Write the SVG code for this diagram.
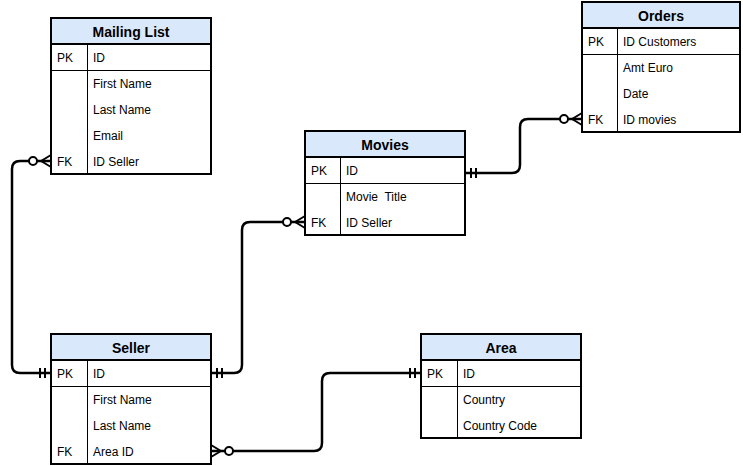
<svg xmlns="http://www.w3.org/2000/svg" width="743" height="466" viewBox="0 0 743 466">
<defs>
<style>
.box{fill:#ffffff;stroke:#000;stroke-width:2}
.hdr{fill:#dae8fc;stroke:#000;stroke-width:2}
.sep{stroke:#000;stroke-width:1;fill:none}
.ht{font-family:"Liberation Sans",Arial,sans-serif;font-size:14px;font-weight:bold;text-anchor:middle;fill:#000}
.t{font-family:"Liberation Sans",Arial,sans-serif;font-size:12px;fill:#000;white-space:pre}
.conn{fill:none;stroke:#000;stroke-width:2.5}
</style>
<marker id="zeroMany" markerUnits="userSpaceOnUse" orient="auto-start-reverse" refX="0" refY="0" viewBox="-30 -10 32 20" markerWidth="32" markerHeight="20" overflow="visible">
<path d="M-10,0 L0,-6 M-10,0 L0,0 M-10,0 L0,6" fill="none" stroke="#000" stroke-width="2"/>
<circle cx="-18" cy="0" r="4" fill="#fff" stroke="#000" stroke-width="2"/>
</marker>
<marker id="mandOne" markerUnits="userSpaceOnUse" orient="auto-start-reverse" refX="0" refY="0" viewBox="-30 -10 32 20" markerWidth="32" markerHeight="20" overflow="visible">
<path d="M-6,-5 V5 M-11,-5 V5" fill="none" stroke="#000" stroke-width="2"/>
</marker>
</defs>

<g id="connectors">
<path class="conn" d="M51,161 H20 Q12,161 12,169 V365 Q12,373 20,373 H51" marker-start="url(#zeroMany)" marker-end="url(#mandOne)"/>
<path class="conn" d="M211,373 H234 Q242,373 242,365 V230 Q242,222 250,222 H305" marker-start="url(#mandOne)" marker-end="url(#zeroMany)"/>
<path class="conn" d="M465,173 H512 Q520,173 520,165 V127 Q520,119 528,119 H582" marker-start="url(#mandOne)" marker-end="url(#zeroMany)"/>
<path class="conn" d="M211,451 H314 Q322,451 322,443 V381 Q322,373 330,373 H421" marker-start="url(#zeroMany)" marker-end="url(#mandOne)"/>
</g>

<g id="mailing-list">
<rect class="box" x="51" y="18" width="160" height="156"/>
<rect class="hdr" x="51" y="18" width="160" height="26"/>
<path class="sep" d="M51,70.5 H211 M87.5,44 V174"/>
<text class="ht" x="131" y="37">Mailing List</text>
<text class="t" x="57" y="62">PK</text>
<text class="t" x="93" y="62">ID</text>
<text class="t" x="93" y="88">First Name</text>
<text class="t" x="93" y="114">Last Name</text>
<text class="t" x="93" y="140">Email</text>
<text class="t" x="57" y="166">FK</text>
<text class="t" x="93" y="166">ID Seller</text>
</g>

<g id="movies">
<rect class="box" x="305" y="131" width="160" height="104"/>
<rect class="hdr" x="305" y="131" width="160" height="26"/>
<path class="sep" d="M305,183.5 H465 M340.5,157 V235"/>
<text class="ht" x="385" y="150">Movies</text>
<text class="t" x="311" y="175">PK</text>
<text class="t" x="346" y="175">ID</text>
<text class="t" x="346" y="201">Movie  Title</text>
<text class="t" x="311" y="227">FK</text>
<text class="t" x="346" y="227">ID Seller</text>
</g>

<g id="orders">
<rect class="box" x="582" y="2" width="158" height="130"/>
<rect class="hdr" x="582" y="2" width="158" height="26"/>
<path class="sep" d="M582,54.5 H740 M617.5,28 V132"/>
<text class="ht" x="661" y="21">Orders</text>
<text class="t" x="588" y="46">PK</text>
<text class="t" x="623" y="46">ID Customers</text>
<text class="t" x="623" y="72">Amt Euro</text>
<text class="t" x="623" y="98">Date</text>
<text class="t" x="588" y="124">FK</text>
<text class="t" x="623" y="124">ID movies</text>
</g>

<g id="seller">
<rect class="box" x="51" y="334" width="160" height="130"/>
<rect class="hdr" x="51" y="334" width="160" height="26"/>
<path class="sep" d="M51,386.5 H211 M87.5,360 V464"/>
<text class="ht" x="131" y="353">Seller</text>
<text class="t" x="57" y="378">PK</text>
<text class="t" x="93" y="378">ID</text>
<text class="t" x="93" y="404">First Name</text>
<text class="t" x="93" y="430">Last Name</text>
<text class="t" x="57" y="456">FK</text>
<text class="t" x="93" y="456">Area ID</text>
</g>

<g id="area">
<rect class="box" x="421" y="334" width="160" height="104"/>
<rect class="hdr" x="421" y="334" width="160" height="26"/>
<path class="sep" d="M421,386.5 H581 M457.5,360 V438"/>
<text class="ht" x="501" y="353">Area</text>
<text class="t" x="427" y="378">PK</text>
<text class="t" x="463" y="378">ID</text>
<text class="t" x="463" y="404">Country</text>
<text class="t" x="463" y="430">Country Code</text>
</g>
</svg>
